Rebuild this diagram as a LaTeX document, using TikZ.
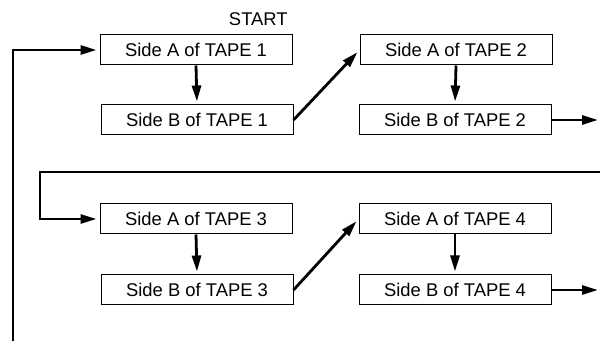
\documentclass[tikz,border=0pt]{standalone}
\usepackage{fontspec}
\setmainfont{Liberation Sans}
\usetikzlibrary{arrows.meta}
\begin{document}
\begin{tikzpicture}[x=0.5pt,y=-0.5pt,
  tapebox/.style={draw=black,line width=0.5pt,minimum width=96pt,minimum height=15pt,inner sep=0pt,font=\fontsize{9.2}{11}\selectfont},
  flow/.style={draw=black,line width=1.4pt,shorten >=1.5pt,-{Triangle[length=8pt,width=4.5pt]}},
  plain/.style={draw=black,line width=1.4pt}]
\useasboundingbox (0,0) rectangle (600,341);
\node[tapebox] (A1) at (196,50) {Side A of TAPE 1};
\node[tapebox] (B1) at (197,120) {Side B of TAPE 1};
\node[tapebox] (A2) at (456,50) {Side A of TAPE 2};
\node[tapebox] (B2) at (455,120) {Side B of TAPE 2};
\node[tapebox] (A3) at (196,219) {Side A of TAPE 3};
\node[tapebox] (B3) at (197,290) {Side B of TAPE 3};
\node[tapebox] (A4) at (455,219) {Side A of TAPE 4};
\node[tapebox] (B4) at (455,290) {Side B of TAPE 4};
\node[font=\fontsize{9.2}{11}\selectfont,anchor=east,inner sep=0pt] (start) at (288,19) {START};
\coordinate (out2) at (601,120);
\coordinate (out4) at (601,290);
\coordinate (r1) at (600,172);
\coordinate (l1) at (40,172);
\coordinate (bot) at (13,341);
\draw[flow] (A1.south) -- (B1.north);
\draw[flow] (B1.east) -- (A2.west);
\draw[flow] (A2.south) -- (B2.north);
\draw[flow] (B2.east) -- (out2);
\draw[flow,line join=miter] (r1) -- (l1) |- (A3.west);
\draw[flow] (A3.south) -- (B3.north);
\draw[flow] (B3.east) -- (A4.west);
\draw[flow] (A4.south) -- (B4.north);
\draw[flow] (B4.east) -- (out4);
\draw[flow,line join=miter] (bot) |- (A1.west);
\end{tikzpicture}
\end{document}
